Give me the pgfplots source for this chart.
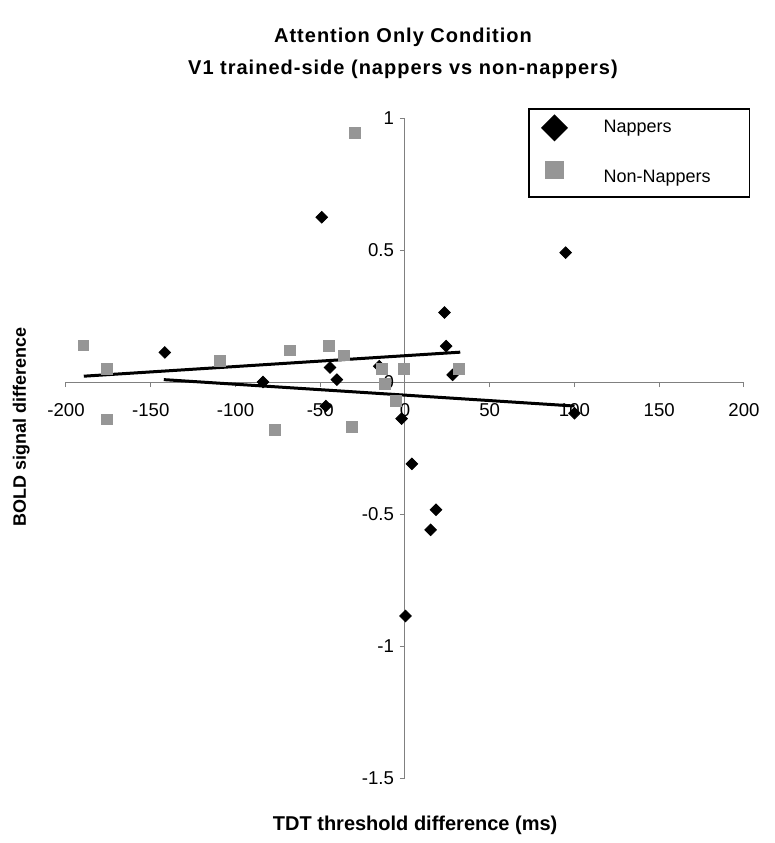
\documentclass[border=0pt]{standalone}
\usepackage{pgfplots}
\pgfplotsset{compat=1.18}
\usepackage{fontspec}
\setmainfont{Liberation Sans}
\definecolor{axgray}{RGB}{128,128,128}
\definecolor{sqgray}{RGB}{150,150,150}
\pgfplotsset{
  legimgA/.style={legend image code/.code={\path[draw=none,fill=none] (-12.7pt,-9.5pt) rectangle (24.5pt,9.5pt);
    \draw[##1] plot coordinates {(0pt,0pt)};}},
  legimgB/.style={legend image code/.code={\path[draw=none,fill=none] (-12.7pt,-9.5pt) rectangle (24.5pt,9.5pt);
    \draw[##1] plot coordinates {(0pt,4pt)};}},
}
\begin{document}
\begin{tikzpicture}
\useasboundingbox (0,0) rectangle (387.5pt,421.5pt);
\begin{axis}[
  at={(33pt,32.5pt)}, anchor=south west,
  scale only axis, width=339pt, height=330pt,
  xmin=-200, xmax=200, ymin=-1.5, ymax=1,
  axis lines=middle,
  axis line style={-, draw=axgray, line width=0.5pt},
  xtick={-200,-150,...,200},
  ytick={-1.5,-1,-0.5,0,0.5,1},
  tick align=outside,
  major tick length=2.5pt,
  tick style={draw=axgray, line width=0.5pt},
  hide obscured x ticks=false, hide obscured y ticks=false,
  /pgf/number format/assume math mode=true,
  tick label style={font=\fontsize{9.3}{11}\selectfont},
  xticklabel style={yshift=-4.5pt},
  yticklabel style={xshift=0.5pt},
  title={Attention Only Condition\\V1 trained-side (nappers vs non-nappers)},
  title style={align=center, font=\bfseries\fontsize{10}{16}\selectfont\addfontfeatures{LetterSpace=5},
    at={(axis description cs:0.497,1.08)}, anchor=center, yshift=0pt},
  xlabel={TDT threshold difference (ms)},
  xlabel style={font=\bfseries\fontsize{10}{12}\selectfont,
    at={(axis description cs:0.515,-0.071)}, anchor=center},
  ylabel={BOLD signal difference},
  ylabel style={font=\bfseries\fontsize{9}{11}\selectfont, rotate=90,
    at={(axis description cs:-0.066,0.532)}, anchor=center},
  legend style={at={(axis description cs:0.682,1.015)}, anchor=north west,
    draw=black, line width=0.75pt, inner sep=0pt, row sep=6pt,
    column sep=0pt, font=\fontsize{9}{11}\selectfont,
    nodes={inner sep=0pt, anchor=west, draw=none}},
]
% Nappers
\addplot[only marks, mark=square*, mark size=2.05pt,
  mark options={rotate=45, fill=black, draw=black}, forget plot] coordinates {
(-141.7,0.112) (-49.1,0.624) (-83.8,0.0) (-44.2,0.055) (-40.2,0.009)
(-46.7,-0.091) (-15.2,0.060) (-2.0,-0.139) (23.3,0.263) (24.3,0.136)
(28.1,0.027) (4.1,-0.310) (18.3,-0.484) (15.1,-0.560) (0.3,-0.886)
(94.8,0.490) (100,-0.118)
};
% Non-nappers
\addplot[only marks, mark=square*, mark size=2.7pt,
  mark options={fill=sqgray, draw=sqgray}, forget plot] coordinates {
(-189.7,0.139) (-175.8,0.051) (-175.8,-0.142) (-109.2,0.080) (-29.4,0.944)
(-67.8,0.120) (-44.8,0.138) (-35.9,0.101) (-76.9,-0.180) (-31.4,-0.171)
(-13.7,0.049) (-11.7,-0.006) (-5.4,-0.072) (-0.5,0.049) (31.6,0.049)
};
% Trend lines
\addplot[black, line width=1.5pt, forget plot] coordinates {(-189.5,0.022) (32.6,0.113)};
\addplot[black, line width=1.5pt, forget plot] coordinates {(-142.3,0.009) (100,-0.091)};
% Legend
\addlegendimage{only marks, mark=square*, mark size=4.4pt,
  mark options={rotate=45, fill=black, draw=black}, legimgA}
\addlegendentry{Nappers}
\addlegendimage{only marks, mark=square*, mark size=4.25pt,
  mark options={fill=sqgray, draw=sqgray}, legimgB}
\addlegendentry{Non-Nappers\rule{19.5pt}{0pt}}
\end{axis}
\end{tikzpicture}
\end{document}
